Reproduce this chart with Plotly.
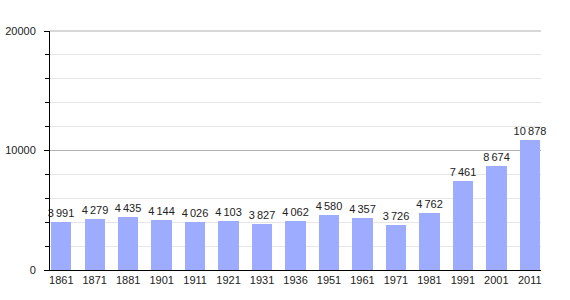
import plotly.graph_objects as go

years = ["1861", "1871", "1881", "1901", "1911", "1921", "1931", "1936",
         "1951", "1961", "1971", "1981", "1991", "2001", "2011"]
population = [3991, 4279, 4435, 4144, 4026, 4103, 3827, 4062,
              4580, 4357, 3726, 4762, 7461, 8674, 10878]
y_ticks = [0, 10000, 20000]

positions = list(range(len(years)))
labels = [f"{v:,}".replace(",", "\u202f") for v in population]

fig = go.Figure(go.Bar(
    x=positions, y=population, width=0.61,
    marker=dict(color="#9DACFF", line=dict(width=0)),
    text=labels, textposition="outside", cliponaxis=False,
    constraintext="none", textangle=0,
    textfont=dict(family="Liberation Sans, Arial, sans-serif", size=11, color="#222"),
))

fig.update_layout(
    width=570, height=300,
    margin=dict(l=50, r=29, t=31, b=30, autoexpand=False),
    plot_bgcolor="white", paper_bgcolor="white",
    showlegend=False, bargap=0,
    font=dict(family="Liberation Sans, Arial, sans-serif", size=11, color="#222"),
    xaxis=dict(
        range=[-0.337, 14.335], tickvals=positions, ticktext=years,
        showgrid=False, zeroline=False, showline=True, linecolor="black",
        linewidth=1, ticks="", ticklabelstandoff=0, automargin=False,
    ),
    yaxis=dict(
        range=[0, 20000], tickvals=y_ticks, showgrid=True, gridcolor="#b0b0b0",
        gridwidth=1, zeroline=False, showline=True, linecolor="black", linewidth=1,
        ticks="outside", ticklen=5, tickcolor="black", tickformat="d",
        ticklabelstandoff=6, automargin=False,
        minor=dict(dtick=2000, showgrid=True, gridcolor="#e6e6e6",
                   ticks="outside", ticklen=4, tickcolor="black"),
    ),
    shapes=[dict(type="line", xref="paper", yref="paper", x0=0, x1=1, y0=1, y1=1,
                 line=dict(color="#b0b0b0", width=1), layer="below")],
)

fig.write_html("out.html")
